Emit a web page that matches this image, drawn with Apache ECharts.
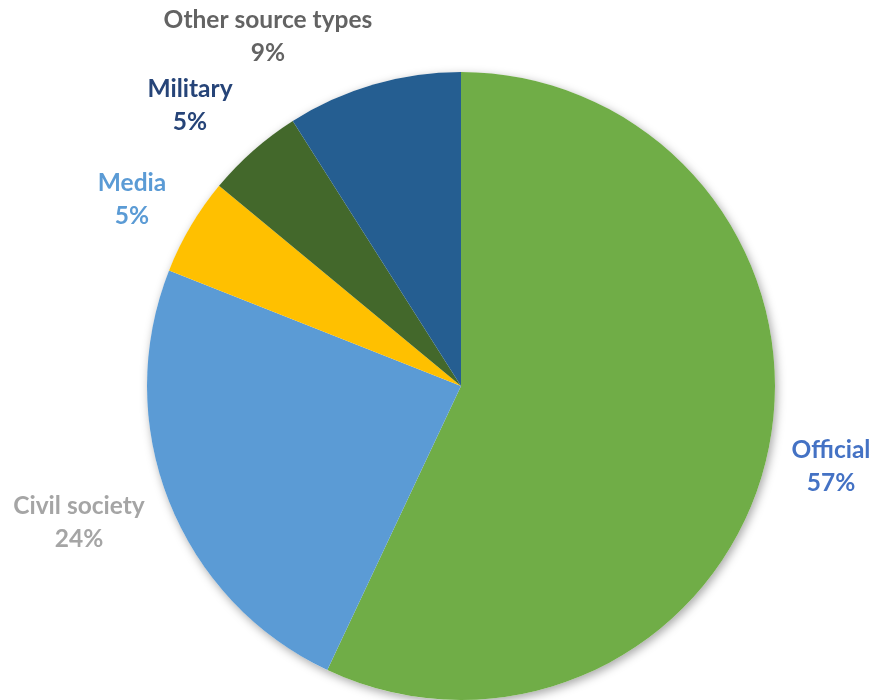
<!DOCTYPE html>
<html>
<head>
<meta charset="utf-8">
<script src="https://cdn.jsdelivr.net/npm/echarts@6/dist/echarts.min.js"></script>
<style>
  html, body { margin: 0; padding: 0; background: #fff; }
  #chart { width: 875px; height: 700px; }
</style>
</head>
<body>
<div id="chart"></div>
<script>
// Source types, clockwise from 12 o'clock
const categories = ['Official', 'Civil society', 'Media', 'Military', 'Other source types'];
const shares = [57, 24, 5, 5, 9];

// Slice fills and label colours
const sliceColors = ['#70AD47', '#5B9BD5', '#FFC000', '#43682B', '#255E91'];
const labelColors = ['#4472C4', '#A5A5A5', '#5B9BD5', '#264478', '#636363'];
// Centre point of each two-line label, in pixels
const labelCentres = [[831, 467], [79, 523], [132, 200], [190, 106], [268, 37]];

const pieCentre = [461, 386];
const pieRadius = 314;

const chart = echarts.init(document.getElementById('chart'), null, { renderer: 'canvas' });

chart.setOption({
  animation: false,
  backgroundColor: '#ffffff',
  series: [
    {
      // soft drop shadow under the whole pie
      type: 'pie',
      silent: true,
      center: pieCentre,
      radius: pieRadius,
      z: 1,
      label: { show: false },
      labelLine: { show: false },
      itemStyle: {
        color: '#ffffff',
        shadowBlur: 10,
        shadowOffsetX: 2,
        shadowOffsetY: 3,
        shadowColor: 'rgba(0,0,0,0.35)'
      },
      data: [{ value: 1, name: '' }]
    },
    {
      type: 'pie',
      center: pieCentre,
      radius: pieRadius,
      startAngle: 90,
      clockwise: true,
      z: 2,
      itemStyle: { borderWidth: 0 },
      label: {
        show: true,
        position: 'outside',
        formatter: '{b}\n{d}%',
        fontFamily: 'Lato, "Open Sans", sans-serif',
        fontWeight: 'bold',
        fontSize: 24.5,
        lineHeight: 33,
        align: 'center',
        overflow: 'none'
      },
      labelLine: { show: false },
      labelLayout: function (params) {
        const c = labelCentres[params.dataIndex];
        return { x: c[0], y: c[1], width: 260, align: 'center', verticalAlign: 'middle' };
      },
      data: categories.map((name, i) => ({
        name: name,
        value: shares[i],
        itemStyle: { color: sliceColors[i] },
        label: { color: labelColors[i] }
      }))
    }
  ]
});
</script>
</body>
</html>
